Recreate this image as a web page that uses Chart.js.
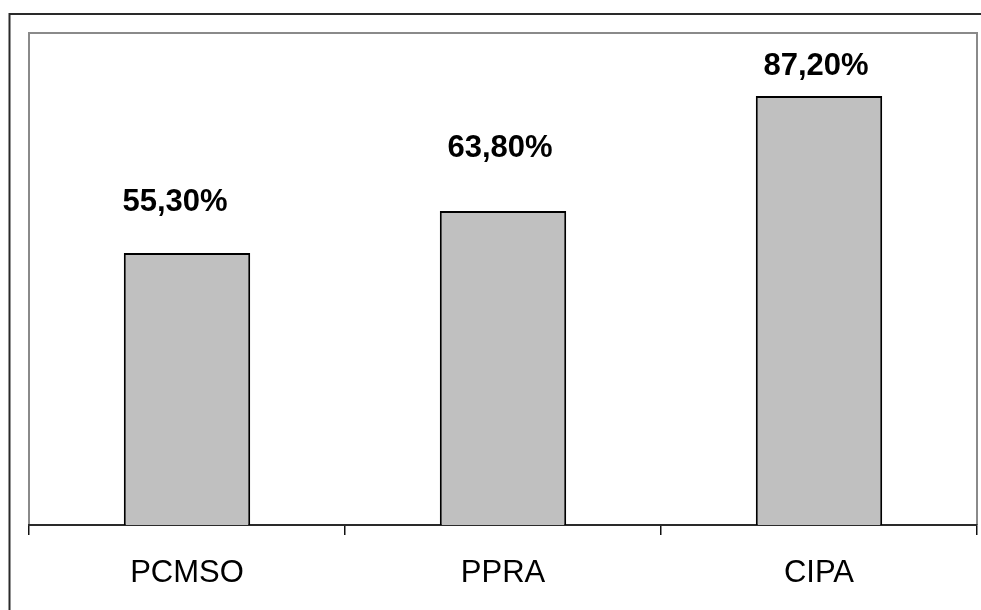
<!DOCTYPE html>
<html>
<head>
<meta charset="utf-8">
<title>PCMSO, PPRA, CIPA</title>
<script src="https://cdn.jsdelivr.net/npm/chart.js@4/dist/chart.umd.min.js"></script>
<style>
  html, body { margin: 0; padding: 0; background: #ffffff; }
  canvas { display: block; }
</style>
</head>
<body>
<canvas id="chart" width="981" height="610"></canvas>
<script>
// Categories and their percentages
const categories = ['PCMSO', 'PPRA', 'CIPA'];
const percentages = [55.3, 63.8, 87.2];
const valueLabels = ['55,30%', '63,80%', '87,20%'];

const FONT = '"Liberation Sans", Arial, Helvetica, sans-serif';

// Frame around the whole figure plus the grey plot-area box
const framePlugin = {
  id: 'frames',
  beforeDraw(chart) {
    const ctx = chart.ctx;
    ctx.save();
    ctx.fillStyle = '#ffffff';
    ctx.fillRect(0, 0, chart.width, chart.height);
    // outer frame (its right and bottom sides run past the canvas)
    ctx.strokeStyle = '#2a2a2a';
    ctx.lineWidth = 2;
    ctx.strokeRect(9.5, 14, chart.width + 20, chart.height + 20);
    // plot-area box
    const a = chart.chartArea;
    ctx.strokeStyle = '#8a8a8a';
    ctx.lineWidth = 2;
    ctx.beginPath();
    ctx.moveTo(a.left, a.bottom);
    ctx.lineTo(a.left, a.top);
    ctx.lineTo(a.right, a.top);
    ctx.lineTo(a.right, a.bottom);
    ctx.stroke();
    ctx.restore();
  }
};

// Bold value labels placed above each bar
const valueLabelPlugin = {
  id: 'valueLabels',
  afterDatasetsDraw(chart, args, opts) {
    const ctx = chart.ctx;
    const meta = chart.getDatasetMeta(0);
    ctx.save();
    ctx.font = 'bold 31px ' + FONT;
    ctx.fillStyle = '#000000';
    ctx.textAlign = 'center';
    ctx.textBaseline = 'alphabetic';
    meta.data.forEach((bar, i) => {
      const dx = opts.shiftX[i] || 0;
      const lift = opts.lift[i] || 0;
      ctx.fillText(valueLabels[i], bar.x + dx, bar.y - lift);
    });
    ctx.restore();
  }
};

new Chart(document.getElementById('chart'), {
  type: 'bar',
  data: {
    labels: categories,
    datasets: [{
      data: percentages,
      backgroundColor: '#c0c0c0',
      borderColor: '#000000',
      borderWidth: 2,
      borderSkipped: 'bottom',
      categoryPercentage: 1.0,
      barPercentage: 0.4
    }]
  },
  options: {
    responsive: false,
    devicePixelRatio: 1,
    animation: false,
    events: [],
    layout: { padding: { left: 29, right: 4, top: 33, bottom: 0 } },
    plugins: {
      legend: { display: false },
      title: { display: false },
      tooltip: { enabled: false },
      valueLabels: {
        shiftX: [-12, -3, -3],
        lift: [42, 54, 21]
      }
    },
    scales: {
      y: { display: false, min: 0, max: 100 },
      x: {
        position: 'bottom',
        offset: true,
        grid: {
          offset: true,
          drawOnChartArea: false,
          drawTicks: true,
          tickLength: 10,
          color: '#111111',
          lineWidth: 1.5
        },
        border: { display: true, color: '#2a2a2a', width: 2 },
        ticks: {
          color: '#000000',
          font: { family: FONT, size: 31 },
          padding: 20,
          maxRotation: 0,
          autoSkip: false
        },
        afterFit(scale) { scale.height = 85; }
      }
    }
  },
  plugins: [framePlugin, valueLabelPlugin]
});
</script>
</body>
</html>
